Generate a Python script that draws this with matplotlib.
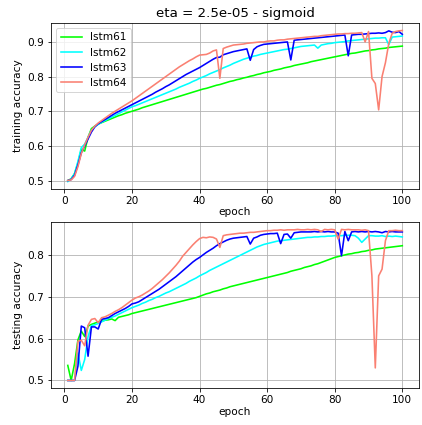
import numpy as np
import matplotlib
matplotlib.use("Agg")
import matplotlib.pyplot as plt
from matplotlib.ticker import MultipleLocator

# ------------------------------------------------------------
# accuracy per epoch
# ------------------------------------------------------------
epochs = list(range(1, 101))
names = ["lstm61", "lstm62", "lstm63", "lstm64"]
colors = ["lime", "cyan", "blue", "salmon"]

train_61 = [
    0.500, 0.505, 0.520, 0.550, 0.590, 0.585, 0.625, 0.650, 0.657, 0.663,
    0.667, 0.671, 0.675, 0.679, 0.683, 0.687, 0.690, 0.694, 0.697, 0.700,
    0.703, 0.706, 0.710, 0.713, 0.716, 0.719, 0.722, 0.725, 0.728, 0.731,
    0.734, 0.737, 0.740, 0.743, 0.746, 0.749, 0.752, 0.755, 0.758, 0.761,
    0.764, 0.766, 0.769, 0.772, 0.775, 0.777, 0.780, 0.783, 0.786, 0.788,
    0.791, 0.793, 0.796, 0.798, 0.801, 0.803, 0.806, 0.808, 0.811, 0.813,
    0.815, 0.818, 0.820, 0.822, 0.825, 0.827, 0.829, 0.832, 0.834, 0.836,
    0.838, 0.840, 0.843, 0.845, 0.847, 0.849, 0.851, 0.853, 0.855, 0.857,
    0.859, 0.861, 0.863, 0.865, 0.867, 0.868, 0.870, 0.872, 0.874, 0.875,
    0.877, 0.878, 0.880, 0.881, 0.882, 0.884, 0.885, 0.886, 0.887, 0.888,
]
train_62 = [
    0.497, 0.505, 0.520, 0.555, 0.595, 0.605, 0.625, 0.645, 0.655, 0.662,
    0.668, 0.673, 0.678, 0.683, 0.688, 0.693, 0.698, 0.703, 0.708, 0.713,
    0.716, 0.720, 0.724, 0.728, 0.732, 0.736, 0.740, 0.744, 0.748, 0.752,
    0.756, 0.760, 0.764, 0.769, 0.773, 0.777, 0.781, 0.786, 0.790, 0.795,
    0.799, 0.803, 0.808, 0.812, 0.816, 0.820, 0.825, 0.829, 0.833, 0.838,
    0.842, 0.846, 0.850, 0.853, 0.856, 0.859, 0.861, 0.864, 0.866, 0.868,
    0.870, 0.872, 0.874, 0.876, 0.878, 0.879, 0.881, 0.883, 0.885, 0.887,
    0.888, 0.889, 0.890, 0.891, 0.882, 0.891, 0.893, 0.895, 0.896, 0.898,
    0.899, 0.900, 0.901, 0.903, 0.904, 0.905, 0.906, 0.907, 0.908, 0.909,
    0.910, 0.911, 0.911, 0.912, 0.912, 0.892, 0.914, 0.915, 0.916, 0.917,
]
train_63 = [
    0.500, 0.503, 0.515, 0.545, 0.580, 0.600, 0.620, 0.640, 0.655, 0.664,
    0.670, 0.676, 0.682, 0.688, 0.694, 0.699, 0.704, 0.709, 0.714, 0.719,
    0.724, 0.729, 0.734, 0.739, 0.744, 0.749, 0.755, 0.760, 0.765, 0.771,
    0.776, 0.782, 0.788, 0.794, 0.800, 0.806, 0.811, 0.816, 0.821, 0.826,
    0.832, 0.838, 0.844, 0.850, 0.855, 0.856, 0.863, 0.866, 0.869, 0.872,
    0.874, 0.876, 0.878, 0.880, 0.847, 0.878, 0.886, 0.890, 0.893, 0.894,
    0.895, 0.896, 0.897, 0.898, 0.899, 0.900, 0.848, 0.905, 0.906, 0.907,
    0.908, 0.909, 0.910, 0.911, 0.912, 0.913, 0.914, 0.915, 0.916, 0.917,
    0.918, 0.919, 0.920, 0.860, 0.920, 0.921, 0.922, 0.922, 0.923, 0.924,
    0.925, 0.925, 0.926, 0.925, 0.927, 0.932, 0.928, 0.927, 0.930, 0.922,
]
train_64 = [
    0.500, 0.502, 0.512, 0.540, 0.578, 0.603, 0.625, 0.645, 0.657, 0.666,
    0.673, 0.680, 0.687, 0.694, 0.700, 0.706, 0.712, 0.718, 0.724, 0.730,
    0.737, 0.744, 0.751, 0.758, 0.765, 0.772, 0.779, 0.786, 0.793, 0.800,
    0.807, 0.814, 0.821, 0.828, 0.834, 0.840, 0.846, 0.851, 0.857, 0.862,
    0.863, 0.864, 0.868, 0.874, 0.877, 0.795, 0.881, 0.885, 0.888, 0.891,
    0.892, 0.893, 0.894, 0.896, 0.897, 0.898, 0.899, 0.900, 0.900, 0.902,
    0.903, 0.903, 0.905, 0.906, 0.906, 0.908, 0.909, 0.910, 0.911, 0.912,
    0.913, 0.914, 0.915, 0.916, 0.916, 0.918, 0.919, 0.920, 0.921, 0.922,
    0.923, 0.923, 0.924, 0.924, 0.925, 0.925, 0.926, 0.927, 0.900, 0.930,
    0.795, 0.780, 0.704, 0.800, 0.840, 0.896, 0.925, 0.930, 0.932, 0.933,
]

test_61 = [
    0.536, 0.500, 0.540, 0.597, 0.618, 0.605, 0.630, 0.634, 0.637, 0.640,
    0.642, 0.644, 0.645, 0.647, 0.643, 0.651, 0.653, 0.655, 0.657, 0.660,
    0.662, 0.664, 0.666, 0.668, 0.670, 0.672, 0.674, 0.676, 0.678, 0.680,
    0.682, 0.684, 0.686, 0.688, 0.690, 0.692, 0.694, 0.696, 0.698, 0.701,
    0.704, 0.707, 0.709, 0.712, 0.714, 0.716, 0.719, 0.721, 0.724, 0.726,
    0.728, 0.730, 0.732, 0.734, 0.736, 0.738, 0.740, 0.742, 0.744, 0.746,
    0.748, 0.750, 0.752, 0.754, 0.756, 0.758, 0.761, 0.763, 0.765, 0.767,
    0.770, 0.772, 0.774, 0.777, 0.779, 0.782, 0.785, 0.788, 0.791, 0.794,
    0.796, 0.798, 0.800, 0.802, 0.803, 0.805, 0.806, 0.808, 0.809, 0.811,
    0.812, 0.814, 0.815, 0.816, 0.817, 0.818, 0.819, 0.820, 0.821, 0.822,
]
test_62 = [
    0.500, 0.500, 0.500, 0.566, 0.524, 0.550, 0.605, 0.631, 0.633, 0.636,
    0.640, 0.644, 0.648, 0.651, 0.654, 0.658, 0.662, 0.666, 0.670, 0.674,
    0.677, 0.680, 0.684, 0.687, 0.691, 0.694, 0.698, 0.701, 0.705, 0.709,
    0.712, 0.716, 0.720, 0.724, 0.728, 0.732, 0.737, 0.741, 0.745, 0.750,
    0.754, 0.758, 0.763, 0.767, 0.771, 0.775, 0.779, 0.783, 0.787, 0.791,
    0.795, 0.799, 0.803, 0.807, 0.811, 0.815, 0.819, 0.822, 0.825, 0.827,
    0.829, 0.831, 0.833, 0.834, 0.835, 0.836, 0.837, 0.838, 0.839, 0.840,
    0.841, 0.842, 0.842, 0.843, 0.843, 0.844, 0.844, 0.845, 0.845, 0.846,
    0.846, 0.846, 0.847, 0.847, 0.847, 0.846, 0.840, 0.830, 0.838, 0.846,
    0.846, 0.845, 0.845, 0.846, 0.844, 0.845, 0.844, 0.845, 0.844, 0.843,
]
test_63 = [
    0.500, 0.500, 0.500, 0.534, 0.630, 0.626, 0.558, 0.628, 0.628, 0.623,
    0.646, 0.648, 0.650, 0.655, 0.660, 0.664, 0.668, 0.672, 0.677, 0.683,
    0.685, 0.688, 0.693, 0.698, 0.703, 0.708, 0.713, 0.718, 0.724, 0.730,
    0.736, 0.742, 0.748, 0.755, 0.762, 0.769, 0.776, 0.783, 0.789, 0.794,
    0.800, 0.806, 0.811, 0.816, 0.822, 0.827, 0.831, 0.835, 0.838, 0.840,
    0.841, 0.842, 0.843, 0.844, 0.826, 0.840, 0.843, 0.847, 0.849, 0.850,
    0.851, 0.851, 0.852, 0.827, 0.849, 0.850, 0.840, 0.853, 0.854, 0.855,
    0.855, 0.855, 0.855, 0.856, 0.855, 0.856, 0.855, 0.856, 0.855, 0.855,
    0.852, 0.798, 0.856, 0.834, 0.855, 0.856, 0.855, 0.856, 0.855, 0.856,
    0.855, 0.856, 0.855, 0.853, 0.856, 0.855, 0.856, 0.855, 0.855, 0.855,
]
test_64 = [
    0.500, 0.500, 0.500, 0.594, 0.596, 0.583, 0.632, 0.646, 0.648, 0.638,
    0.650, 0.652, 0.656, 0.660, 0.665, 0.669, 0.674, 0.680, 0.686, 0.692,
    0.697, 0.700, 0.704, 0.709, 0.714, 0.720, 0.727, 0.734, 0.741, 0.749,
    0.757, 0.766, 0.775, 0.785, 0.797, 0.806, 0.815, 0.824, 0.832, 0.839,
    0.842, 0.841, 0.843, 0.842, 0.838, 0.818, 0.846, 0.848, 0.849, 0.850,
    0.851, 0.852, 0.852, 0.853, 0.854, 0.854, 0.855, 0.856, 0.857, 0.858,
    0.858, 0.859, 0.859, 0.860, 0.859, 0.860, 0.860, 0.860, 0.861, 0.860,
    0.860, 0.861, 0.860, 0.861, 0.860, 0.856, 0.861, 0.860, 0.861, 0.860,
    0.838, 0.861, 0.860, 0.861, 0.860, 0.860, 0.860, 0.859, 0.860, 0.858,
    0.750, 0.530, 0.750, 0.766, 0.834, 0.858, 0.858, 0.859, 0.858, 0.858,
]

train = [train_61, train_62, train_63, train_64]
test = [test_61, test_62, test_63, test_64]

# ------------------------------------------------------------
# Plot
# ------------------------------------------------------------
plt.rcParams["font.size"] = 10.5
fig = plt.figure(figsize=(422 / 72, 425 / 72), dpi=72)
ax1 = fig.add_axes([0.121, 0.555, 0.872, 0.391])
ax2 = fig.add_axes([0.121, 0.087, 0.872, 0.391])

for name, c, tr, te in zip(names, colors, train, test):
    ax1.plot(epochs, tr, color=c, label=name, linewidth=1.6)
    ax2.plot(epochs, te, color=c, label=name, linewidth=1.6)

ax1.set_title("eta = 2.5e-05 - sigmoid", fontsize=13.4)
ax1.set_xlabel("epoch", labelpad=1)
ax1.set_ylabel("training accuracy")
ax1.legend(loc="upper left")
ax1.grid(True)
ax1.yaxis.set_major_locator(MultipleLocator(0.1))

ax2.set_xlabel("epoch", labelpad=2)
ax2.set_ylabel("testing accuracy")
ax2.grid(True)
ax2.yaxis.set_major_locator(MultipleLocator(0.1))

fig.savefig("out.png", dpi=72)
